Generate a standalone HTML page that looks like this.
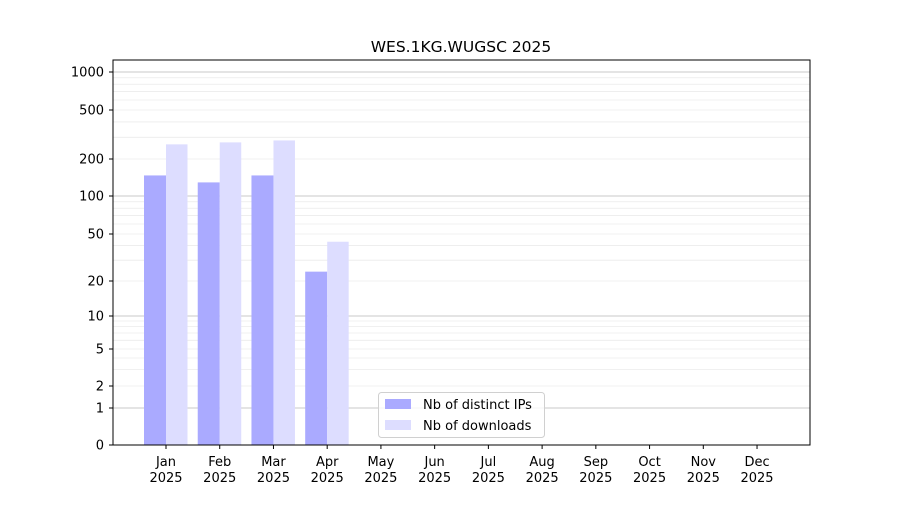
<!DOCTYPE html>
<html><head><meta charset="utf-8"><style>
body{margin:0;background:#fff;}
svg text{font-family:"DejaVu Sans","Liberation Sans",sans-serif;font-size:13px;fill:#000;}
</style></head><body>
<svg id="s" width="900" height="500" xmlns="http://www.w3.org/2000/svg"></svg>
<script>
const ticks=[[0,445],[1,408],[2,386],[5,349],[10,316],[20,281],[50,234],[100,196],[200,159],[500,110],[1000,72]];
function Y(v){
 if(v<=1) return 445-37*v;
 for(let i=1;i<ticks.length-1;i++){const [a,pa]=ticks[i],[b,pb]=ticks[i+1];
  if(v<=b) return pa+(pb-pa)*Math.log(v/a)/Math.log(b/a);}
 const [a,pa]=ticks[ticks.length-2],[b,pb]=ticks[ticks.length-1];
 return pa+(pb-pa)*Math.log(v/a)/Math.log(b/a);
}
let h='';
[2,3,4,5,6,7,8,9,20,30,40,50,60,70,80,90,200,300,400,500,600,700,800,900,2000].forEach(v=>{const y=Y(v);if(y>60)h+=`<line x1="113" x2="810" y1="${y}" y2="${y}" stroke="#ebebeb" stroke-width="0.8"/>`;});
[1,10,100,1000].forEach(v=>{const y=Y(v);h+=`<line x1="113" x2="810" y1="${y}" y2="${y}" stroke="#b8b8b8" stroke-width="0.8"/>`;});
const ip=[147,129,147,24],dl=[263,273,283,43];
for(let i=0;i<4;i++){const c=166+53.73*i;
 h+=`<rect x="${c-22}" y="${Y(ip[i])}" width="22" height="${445-Y(ip[i])}" fill="#aaaaff"/>`;
 h+=`<rect x="${c}" y="${Y(dl[i])}" width="21.5" height="${445-Y(dl[i])}" fill="#ddddff"/>`;}
h+=`<rect x="113" y="60" width="697" height="385" fill="none" stroke="#000" stroke-width="1"/>`;
ticks.forEach(([v,y])=>{h+=`<line x1="109" x2="113" y1="${y}" y2="${y}" stroke="#000"/><text x="104" y="${y+4.5}" text-anchor="end">${v}</text>`;});
const m=['Jan','Feb','Mar','Apr','May','Jun','Jul','Aug','Sep','Oct','Nov','Dec'];
m.forEach((n,i)=>{const c=166+53.73*i;h+=`<line x1="${c}" x2="${c}" y1="445" y2="449" stroke="#000"/><text x="${c}" y="466" text-anchor="middle">${n}</text><text x="${c}" y="482" text-anchor="middle">2025</text>`;});
h+=`<text x="461" y="52" text-anchor="middle" style="font-size:15.5px">WES.1KG.WUGSC 2025</text>`;
h+=`<rect x="378.5" y="392.5" width="166" height="45" rx="3" fill="#fff" fill-opacity="0.8" stroke="#d0d0d0"/>`;
h+=`<rect x="385" y="399" width="26" height="10" fill="#aaaaff"/><text x="423" y="409">Nb of distinct IPs</text>`;
h+=`<rect x="385" y="420" width="26" height="10" fill="#ddddff"/><text x="423" y="430">Nb of downloads</text>`;
document.getElementById('s').innerHTML=h;
</script>
</body></html>
